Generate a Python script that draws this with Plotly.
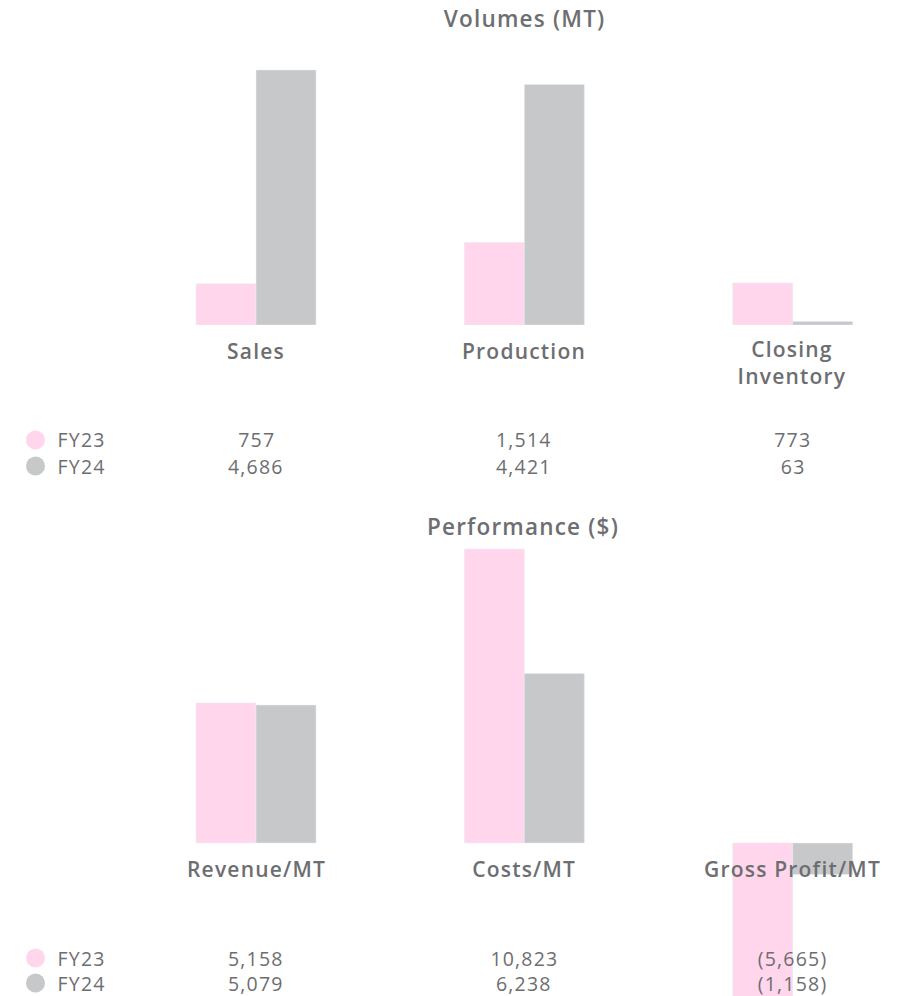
import plotly.graph_objects as go

# ---- data ----
vol_categories = ["Sales", "Production", "Closing<br>Inventory"]
vol_fy23 = [757, 1514, 773]
vol_fy24 = [4686, 4421, 63]
vol_fy23_labels = ["757", "1,514", "773"]
vol_fy24_labels = ["4,686", "4,421", "63"]

perf_categories = ["Revenue/MT", "Costs/MT", "Gross Profit/MT"]
perf_fy23 = [5158, 10823, -5665]
perf_fy24 = [5079, 6238, -1158]
perf_fy23_labels = ["5,158", "10,823", "(5,665)"]
perf_fy24_labels = ["5,079", "6,238", "(1,158)"]

series_names = ["FY23", "FY24"]
colors = ["#FFD6EC", "#C7C8CA"]
TEXT = "#6D6E71"
FONT = "Open Sans"

W, H = 903, 996

def py(p):  # pixel y -> paper
    return 1 - p / H

def px(p):
    return p / W

xpos = [0, 1, 2]
fig = go.Figure()
fig.add_trace(go.Bar(x=xpos, y=vol_fy23, marker_color=colors[0], name=series_names[0],
                     xaxis="x", yaxis="y", showlegend=False))
fig.add_trace(go.Bar(x=xpos, y=vol_fy24, marker_color=colors[1], name=series_names[1],
                     xaxis="x", yaxis="y", showlegend=False))
fig.add_trace(go.Bar(x=xpos, y=perf_fy23, marker_color=colors[0], name=series_names[0],
                     xaxis="x2", yaxis="y2", showlegend=False))
fig.add_trace(go.Bar(x=xpos, y=perf_fy24, marker_color=colors[1], name=series_names[1],
                     xaxis="x2", yaxis="y2", showlegend=False))

xr = [-0.954, 2.411]
axis_common = dict(showgrid=False, zeroline=False, showticklabels=False, showline=False, ticks="")
fig.update_layout(
    width=W, height=H, autosize=False,
    margin=dict(l=0, r=0, t=0, b=0),
    paper_bgcolor="white", plot_bgcolor="rgba(0,0,0,0)",
    barmode="group", bargap=0.553, bargroupgap=0,
    xaxis=dict(range=xr, domain=[0, 1], anchor="y", **axis_common),
    yaxis=dict(range=[0, 5237.2], domain=[py(325), py(40)], anchor="x", **axis_common),
    xaxis2=dict(range=xr, domain=[0, 1], anchor="y2", **axis_common),
    yaxis2=dict(range=[-5632.5, 10970.4], domain=[0, py(545)], anchor="x2", **axis_common),
    font=dict(family=FONT, color=TEXT),
)

ann = []
def text(x, y, s, size, bold=False, xref="x", xanchor="center"):
    ann.append(dict(x=x, y=py(y), xref=xref, yref="paper", text=s,
                    showarrow=False, xanchor=xanchor, yanchor="middle", borderpad=0,
                    font=dict(size=size, color=TEXT, family=FONT, weight=600 if bold else 400)))

# titles
text(px(524), 18, "Volumes (MT)", 22.5, True, xref="paper")
text(px(523), 526, "Performance ($)", 22.5, True, xref="paper")

# category labels
for i, c in enumerate(vol_categories):
    text(i, 362 if "<br>" in c else 351, c, 21, True)
for i, c in enumerate(perf_categories):
    text(i, 869, c, 21, True)

# tables
for i in range(3):
    text(i, 440, vol_fy23_labels[i], 19.5)
    text(i, 466, vol_fy24_labels[i], 19.5)
    text(i, 958, perf_fy23_labels[i], 19.5)
    text(i, 983, perf_fy24_labels[i], 19.5)

shapes = []
for rows in [(440, 466), (958, 983)]:
    for k, yc in enumerate(rows):
        text(px(59), yc, series_names[k], 19.5, xref="paper", xanchor="left")
        shapes.append(dict(type="circle", xref="paper", yref="paper",
                           x0=px(26), x1=px(45), y0=py(yc + 9.5), y1=py(yc - 9.5),
                           fillcolor=colors[k], line=dict(width=0)))

fig.update_layout(annotations=ann, shapes=shapes)

post = ("document.body.style.margin='0';document.body.style.overflow='hidden';"
        "document.querySelectorAll('.annotation-text').forEach(function(t){t.style.letterSpacing='1.2px';});")
fig.write_html("out.html", post_script=post, config={"displayModeBar": False})
